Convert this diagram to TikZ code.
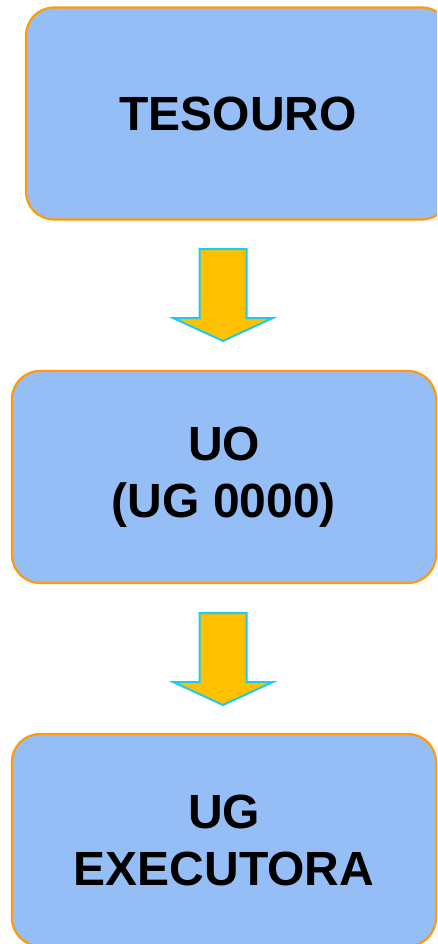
\documentclass[tikz,border=0pt]{standalone}
\usepackage{fontspec}
\setmainfont{Liberation Sans}
\definecolor{boxfill}{HTML}{95BEF7}
\definecolor{boxline}{HTML}{FF9A0A}
\definecolor{arrfill}{HTML}{FFC000}
\definecolor{arrline}{HTML}{1CCBF2}
\begin{document}
\begin{tikzpicture}[x=1pt,y=-1pt,
  stage/.style={draw=boxline, line width=2.2pt, fill=boxfill, rounded corners=28pt,
    minimum width=424pt, minimum height=212pt, align=center,
    font=\fontsize{48}{57}\selectfont\bfseries, text=black, inner sep=0pt},
  blockarrow/.style={draw=arrline, line width=2pt, fill=arrfill, line join=miter}]
  \useasboundingbox (0,0) rectangle (437,944);
  \clip (0,0) rectangle (437,944);
  % down arrow: shaft 47 wide, head 100 wide, total length 92
  \tikzset{downarrow/.pic={
    \draw[blockarrow] (-23.5,0) -- (23.5,0) -- (23.5,69) -- (50,69) -- (0,92)
      -- (-50,69) -- (-23.5,69) -- cycle;}}
  \node[stage] (tes) at (238,113.5) {TESOURO};
  \node[stage] (uo) at (224,477) {UO\\(UG 0000)};
  \node[stage] (ug) at (224,840) {UG\\EXECUTORA};
  \pic (a1) at (223,249) {downarrow};
  \pic (a2) at (223,613) {downarrow};
\end{tikzpicture}
\end{document}
